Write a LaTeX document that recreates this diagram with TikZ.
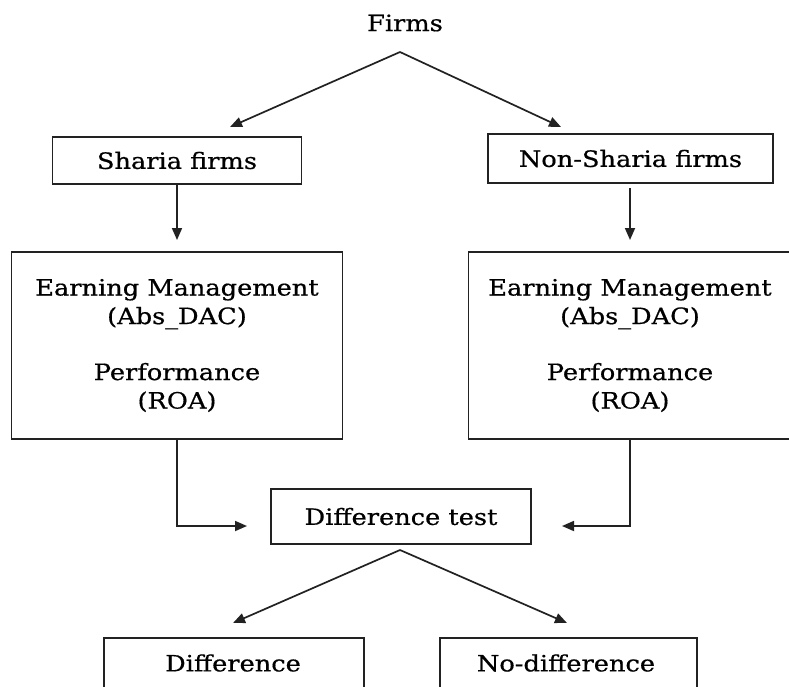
\documentclass[tikz,border=0pt]{standalone}
\usepackage{fontspec}
\setmainfont[FakeStretch=1.14,FakeBold=0.6]{DejaVu Serif}
\usetikzlibrary{arrows.meta}
\definecolor{ink}{HTML}{222222}
\begin{document}
\begin{tikzpicture}[x=1pt,y=-1pt,
  box/.style={draw=ink, line width=1.8pt, inner sep=0pt, align=center, text=black,
              font=\fontsize{22.5}{28.5}\selectfont},
  lbl/.style={inner sep=0pt, font=\fontsize{22.5}{28.5}\selectfont},
  arr/.style={draw=ink, line width=1.7pt, -{Triangle[length=12pt,width=10pt]}},
  ln/.style={draw=ink, line width=1.7pt}]
\useasboundingbox (0,0) rectangle (789,686);
\clip (0,0) rectangle (789,686);
\fill[white] (0,0) rectangle (789,686);

% top
\node[lbl] (firms) at (405,23) {Firms};
\coordinate (apex1) at (400,52);
\coordinate (t1) at (230,127);
\coordinate (t2) at (561,127);

\node[box, minimum width=249pt, minimum height=47pt] (sharia) at (177,160.5) {Sharia firms};
\node[box, minimum width=285pt, minimum height=49pt] (nonsharia) at (630.5,158.5) {Non-Sharia firms};

\coordinate (t3) at (177,240);
\coordinate (t4) at (630,240);
\coordinate (s4) at (630,188);

\node[box, minimum width=331pt, minimum height=187pt] (eml) at (177,345.5)
  {Earning Management\\(Abs\_DAC)\\[27.5pt]Performance\\(ROA)};
\node[box, minimum width=323pt, minimum height=187pt] (emr) at (630,345.5)
  {Earning Management\\(Abs\_DAC)\\[27.5pt]Performance\\(ROA)};

\node[box, minimum width=260pt, minimum height=55pt] (test) at (401,516.5) {Difference test};

\coordinate (cl) at (177,526);
\coordinate (tl) at (247,526);
\coordinate (cr) at (630,526);
\coordinate (tr) at (562,526);

\coordinate (apex2) at (400,550);
\coordinate (t5) at (233,623);
\coordinate (t6) at (567,623);

\node[box, minimum width=260pt, minimum height=54pt, anchor=north] (diff) at (234,637) {};
\node[lbl] at (233,663) {Difference};
\node[box, minimum width=257pt, minimum height=54pt, anchor=north] (nodiff) at (568.5,637) {};
\node[lbl] at (566,663) {No-difference};

% connectors
\draw[arr] (apex1) -- (t1);
\draw[arr] (apex1) -- (t2);
\draw[arr] (sharia.south) -- (t3);
\draw[arr] (s4) -- (t4);
\draw[arr] (eml.south) -- (cl) -- (tl);
\draw[arr] (emr.south) -- (cr) -- (tr);
\draw[arr] (apex2) -- (t5);
\draw[arr] (apex2) -- (t6);
\end{tikzpicture}
\end{document}
